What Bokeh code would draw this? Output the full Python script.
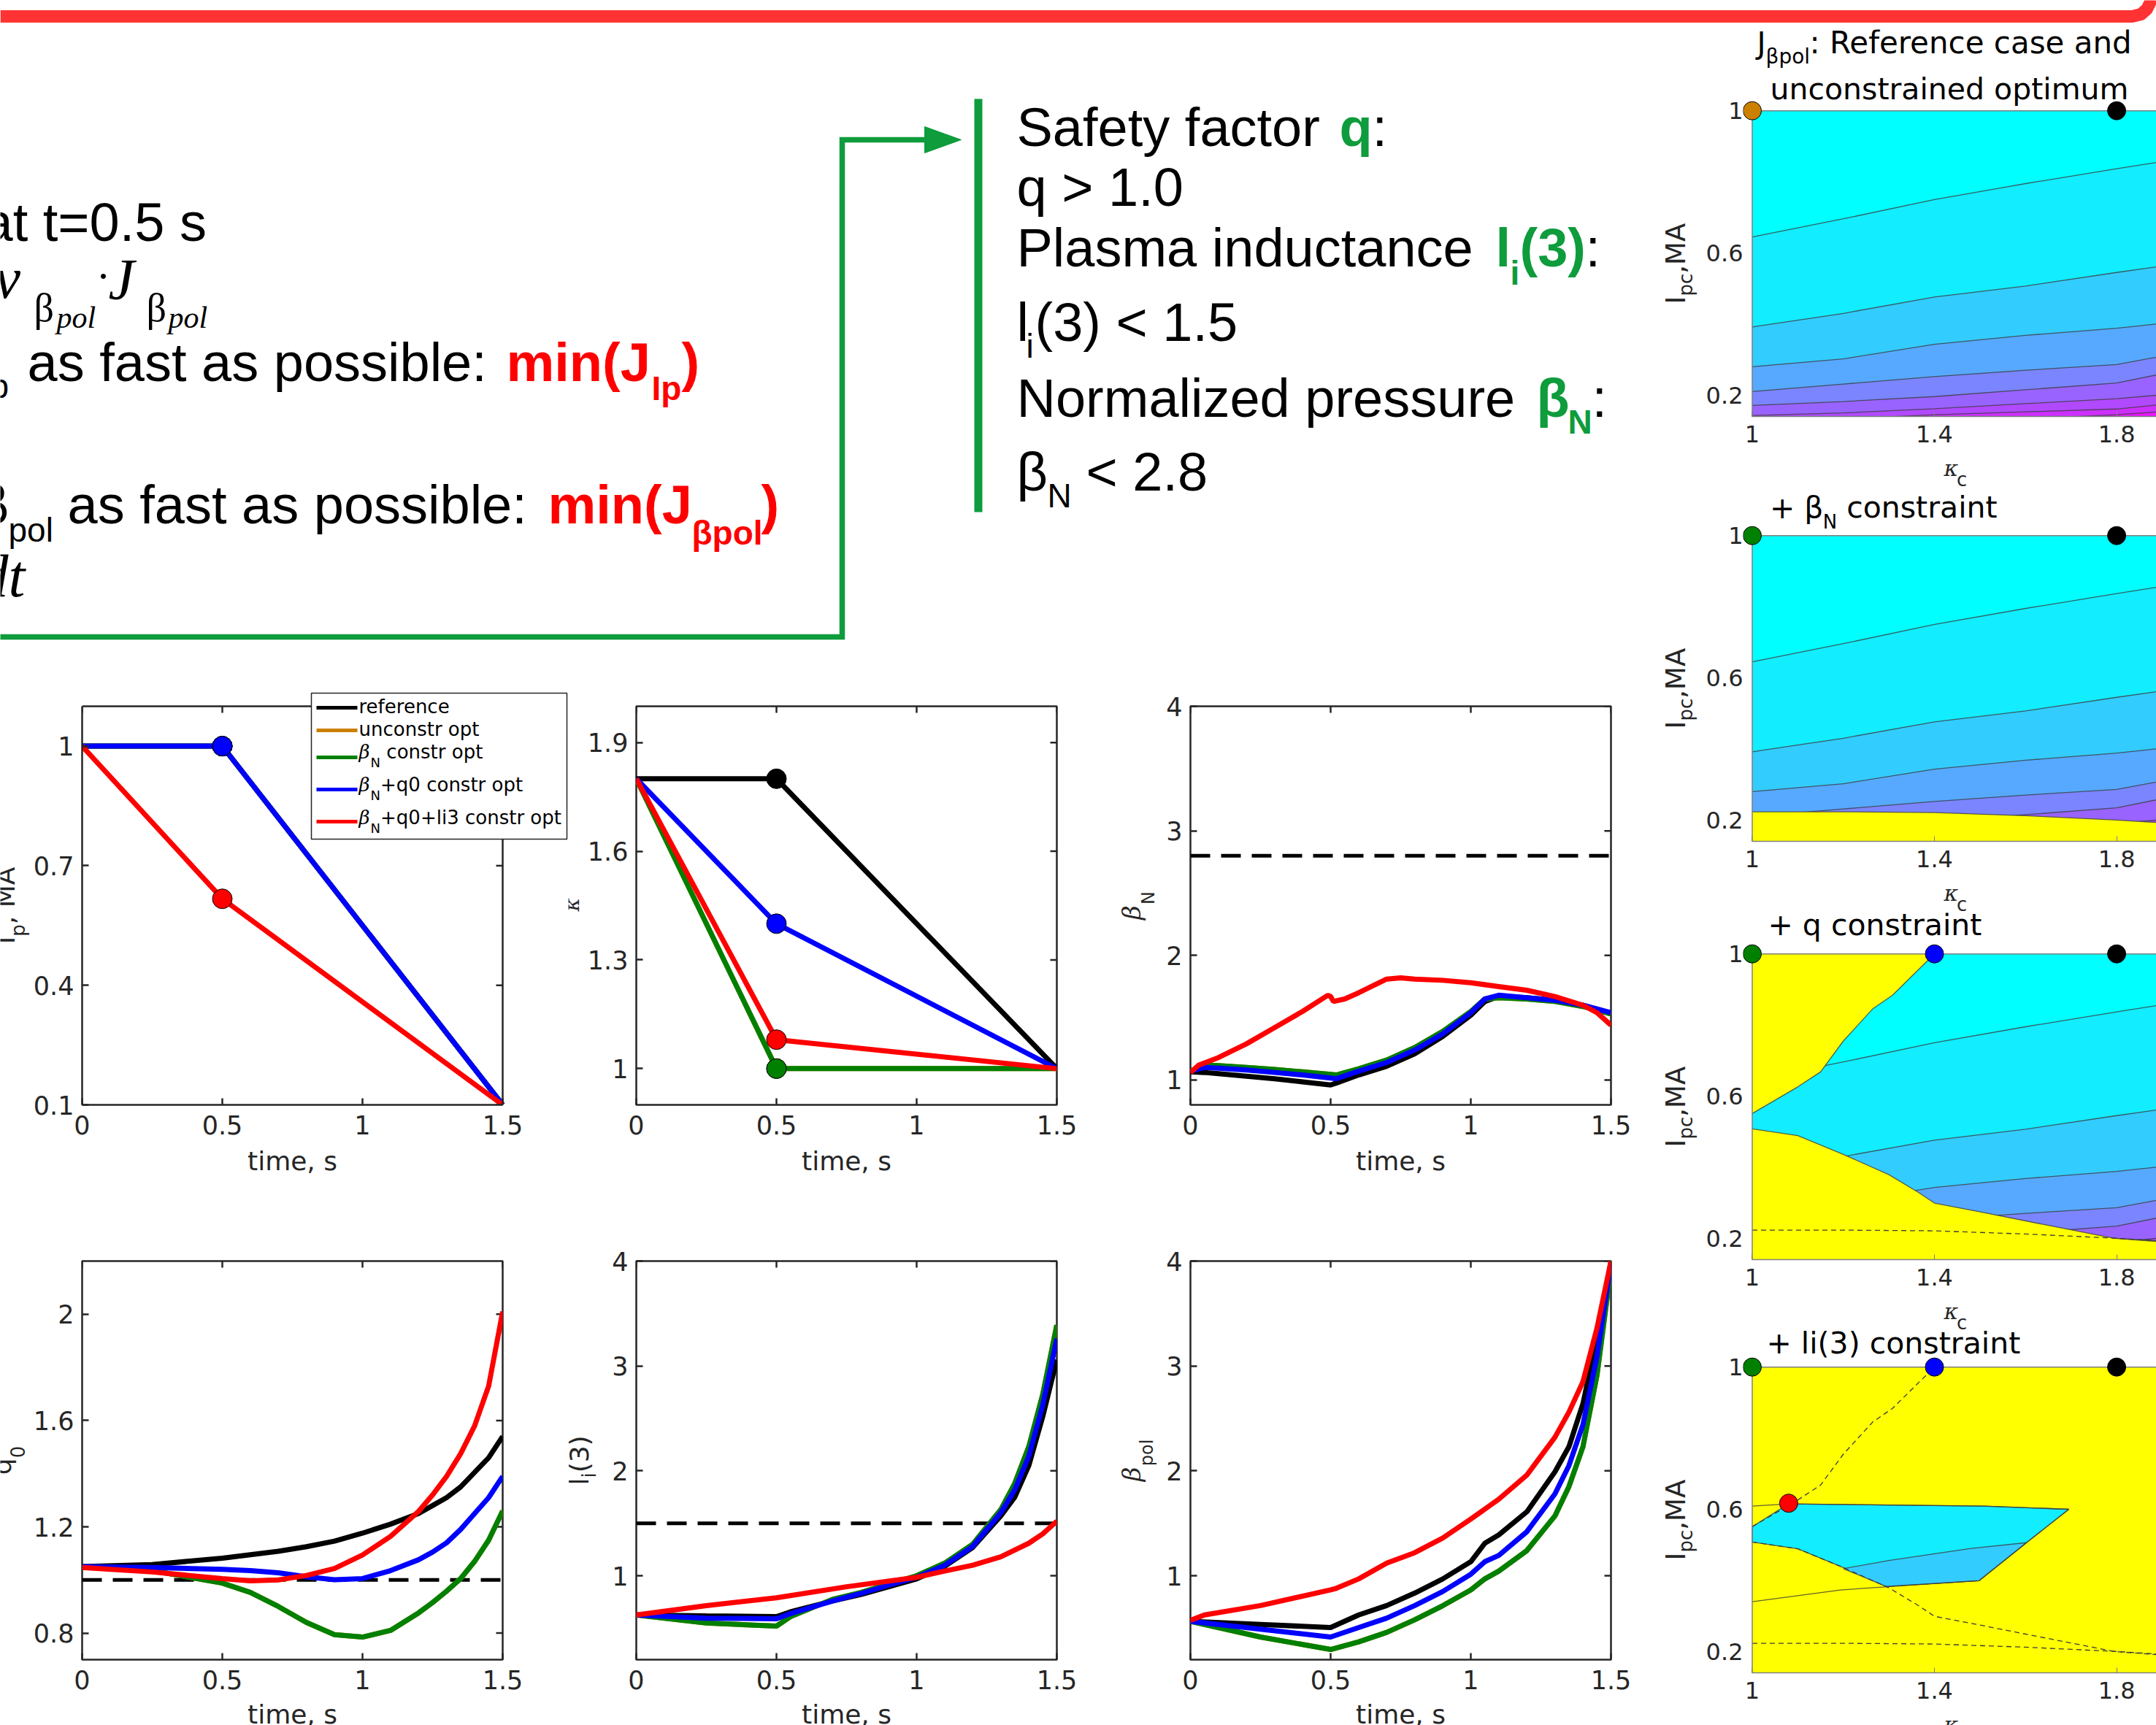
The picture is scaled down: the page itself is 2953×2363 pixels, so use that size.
import math
from bokeh.plotting import figure
from bokeh.models import Range1d, FixedTicker, NumeralTickFormatter
from bokeh.layouts import row, column
from bokeh.embed import file_html
from bokeh.resources import INLINE
from bokeh.core.properties import value

# ======================= DATA =======================
case_names = ["reference", "unconstr opt", "βN constr opt", "βN+q0 constr opt", "βN+q0+li3 constr opt"]
case_colors = ["#000000", "#CC8000", "#008000", "#0000FF", "#FF0000"]

# plasma current Ip (MA) and elongation kappa (switch point at t = 0.5 s)
t_ramp = [0.0, 0.5, 1.5]
ip_ref = [1.0, 1.0, 0.1]
ip_unc = [1.0, 1.0, 0.1]
ip_bn = [1.0, 1.0, 0.1]
ip_bnq = [1.0, 1.0, 0.1]
ip_li = [1.0, 0.617, 0.1]
kap_ref = [1.8, 1.8, 1.0]
kap_unc = [1.8, 1.0, 1.0]
kap_bn = [1.8, 1.0, 1.0]
kap_bnq = [1.8, 1.4, 1.0]
kap_li = [1.8, 1.08, 1.0]

# normalized pressure beta_N
t_bN = [0.0, 0.05, 0.1, 0.2, 0.3, 0.4, 0.5, 0.52, 0.6, 0.7, 0.8, 0.9, 1.0, 1.05, 1.1, 1.2, 1.3, 1.4, 1.5]
bN_ref = [1.065, 1.06, 1.05, 1.03, 1.01, 0.985, 0.96, 0.975, 1.04, 1.11, 1.21, 1.35, 1.52, 1.63, 1.67, 1.66, 1.64, 1.60, 1.53]
bN_unc = [1.07, 1.12, 1.115, 1.10, 1.085, 1.065, 1.045, 1.04, 1.09, 1.16, 1.26, 1.39, 1.55, 1.65, 1.66, 1.65, 1.63, 1.59, 1.53]
bN_bn = [1.07, 1.12, 1.115, 1.10, 1.085, 1.065, 1.045, 1.04, 1.09, 1.16, 1.26, 1.39, 1.55, 1.65, 1.66, 1.65, 1.63, 1.59, 1.53]
bN_bnq = [1.07, 1.10, 1.095, 1.08, 1.06, 1.04, 1.015, 1.01, 1.07, 1.14, 1.24, 1.37, 1.54, 1.65, 1.68, 1.66, 1.64, 1.60, 1.54]
t_bN_li = [0.0, 0.03, 0.1, 0.2, 0.3, 0.4, 0.49, 0.5, 0.51, 0.55, 0.6, 0.7, 0.75, 0.8, 0.9, 1.0, 1.1, 1.2, 1.3, 1.4, 1.45, 1.5]
bN_li = [1.06, 1.12, 1.18, 1.29, 1.42, 1.55, 1.68, 1.67, 1.63, 1.65, 1.70, 1.81, 1.82, 1.81, 1.80, 1.78, 1.75, 1.72, 1.67, 1.60, 1.54, 1.44]
bN_limit = 2.8

# central safety factor q0
t_q = [0.0, 0.25, 0.5, 0.6, 0.7, 0.8, 0.9, 1.0, 1.1, 1.2, 1.25, 1.3, 1.35, 1.4, 1.45, 1.5]
q_ref = [1.05, 1.058, 1.082, 1.095, 1.108, 1.125, 1.146, 1.176, 1.21, 1.25, 1.28, 1.31, 1.35, 1.405, 1.46, 1.54]
q_unc = [1.05, 1.035, 0.988, 0.953, 0.90, 0.84, 0.794, 0.785, 0.81, 0.876, 0.915, 0.958, 1.005, 1.07, 1.15, 1.26]
q_bn = [1.05, 1.035, 0.988, 0.953, 0.90, 0.84, 0.794, 0.785, 0.81, 0.876, 0.915, 0.958, 1.005, 1.07, 1.15, 1.26]
q_bnq = [1.05, 1.047, 1.04, 1.035, 1.027, 1.012, 1.001, 1.005, 1.035, 1.076, 1.105, 1.14, 1.19, 1.25, 1.31, 1.39]
q_li = [1.047, 1.03, 1.005, 0.997, 1.0, 1.017, 1.043, 1.094, 1.164, 1.258, 1.32, 1.39, 1.475, 1.58, 1.73, 2.01]
q_limit = 1.0

# internal inductance li(3)
t_li = [0.0, 0.25, 0.5, 0.55, 0.7, 0.8, 0.9, 1.0, 1.1, 1.2, 1.3, 1.35, 1.4, 1.45, 1.5]
li_ref = [0.626, 0.617, 0.61, 0.656, 0.76, 0.82, 0.895, 0.97, 1.09, 1.27, 1.57, 1.75, 2.05, 2.52, 3.06]
li_unc = [0.626, 0.55, 0.52, 0.61, 0.775, 0.84, 0.92, 1.0, 1.12, 1.30, 1.63, 1.88, 2.23, 2.73, 3.39]
li_bn = [0.626, 0.55, 0.52, 0.61, 0.775, 0.84, 0.92, 1.0, 1.12, 1.30, 1.63, 1.88, 2.23, 2.73, 3.39]
li_bnq = [0.626, 0.595, 0.59, 0.64, 0.76, 0.83, 0.91, 0.985, 1.10, 1.28, 1.60, 1.82, 2.14, 2.63, 3.26]
t_li_li = [0.0, 0.25, 0.5, 0.75, 1.0, 1.1, 1.2, 1.3, 1.4, 1.45, 1.5]
li_li = [0.626, 0.715, 0.79, 0.895, 0.985, 1.045, 1.10, 1.18, 1.31, 1.40, 1.52]
li_limit = 1.5

# poloidal beta
t_bp = [0.0, 0.25, 0.5, 0.6, 0.7, 0.8, 0.9, 1.0, 1.05, 1.1, 1.2, 1.3, 1.35, 1.4, 1.45, 1.5]
bp_ref = [0.566, 0.536, 0.506, 0.626, 0.716, 0.835, 0.97, 1.134, 1.31, 1.39, 1.61, 1.99, 2.23, 2.64, 3.27, 3.99]
bp_unc = [0.566, 0.416, 0.297, 0.37, 0.46, 0.58, 0.715, 0.865, 0.97, 1.045, 1.24, 1.57, 1.85, 2.23, 2.91, 3.93]
bp_bn = [0.566, 0.416, 0.297, 0.37, 0.46, 0.58, 0.715, 0.865, 0.97, 1.045, 1.24, 1.57, 1.85, 2.23, 2.91, 3.93]
bp_bnq = [0.566, 0.49, 0.416, 0.506, 0.596, 0.716, 0.85, 1.015, 1.134, 1.194, 1.42, 1.78, 2.05, 2.44, 3.09, 3.98]
t_bp_li = [0.0, 0.05, 0.25, 0.5, 0.52, 0.6, 0.7, 0.8, 0.9, 1.0, 1.1, 1.2, 1.3, 1.35, 1.4, 1.45, 1.5]
bp_li = [0.575, 0.626, 0.716, 0.865, 0.88, 0.97, 1.12, 1.22, 1.36, 1.54, 1.73, 1.96, 2.32, 2.56, 2.85, 3.36, 4.0]

# J_beta_pol contour map over (kappa_c, I_pc): level lines sampled on k_grid
k_grid = [1.0, 1.2, 1.4, 1.6, 1.8, 1.9]
ipc_top = 1.0
ipc_floor = 0.0
lev_A = [0.645, 0.696, 0.750, 0.795, 0.837, 0.857]
lev_B = [0.392, 0.430, 0.476, 0.507, 0.545, 0.563]
lev_C = [0.280, 0.302, 0.343, 0.368, 0.388, 0.402]
lev_D = [0.210, 0.231, 0.252, 0.270, 0.286, 0.310]
lev_E = [0.171, 0.182, 0.196, 0.215, 0.234, 0.260]
lev_F = [0.143, 0.150, 0.162, 0.176, 0.190, 0.201]
lev_G = [0.120, 0.133, 0.145, 0.153, 0.161, 0.174]
lev_H = [0.100, 0.110, 0.120, 0.133, 0.145, 0.154]
band_colors = ["#00FFFF", "#12EDFF", "#33CCFF", "#56A9FF", "#7A85FF", "#9963FF", "#B149FF", "#CD2FFF", "#E916FF"]
# constraint boundaries
bN_bound = [0.223, 0.223, 0.221, 0.212, 0.200, 0.192]
q_up_k = [1.0, 1.1, 1.15, 1.2, 1.265, 1.308, 1.4]
q_up_I = [0.551, 0.626, 0.668, 0.755, 0.846, 0.884, 1.0]
q_lo_k = [1.0, 1.1, 1.2, 1.3, 1.365, 1.4, 1.509, 1.659, 1.795, 1.9]
q_lo_I = [0.508, 0.489, 0.436, 0.379, 0.329, 0.299, 0.272, 0.234, 0.200, 0.190]
li_up_k = [1.0, 1.079, 1.509, 1.695]
li_up_I = [0.609, 0.615, 0.609, 0.600]
li_rt_k = [1.695, 1.602, 1.498]
li_rt_I = [0.600, 0.506, 0.399]
li_lo_k = [1.0, 1.193, 1.494]
li_lo_I = [0.340, 0.373, 0.399]
feas_k = [1.0, 1.079, 1.509, 1.695, 1.602, 1.498, 1.294, 1.2, 1.1, 1.0]
feas_I = [0.551, 0.615, 0.609, 0.600, 0.506, 0.399, 0.383, 0.436, 0.489, 0.508]
feas_b3_k = [1.2, 1.3, 1.48, 1.602, 1.498, 1.294]
feas_b3_I = [0.433, 0.456, 0.49, 0.506, 0.399, 0.383]

# ======================= HELPERS =======================
EM = {" ": 0.318, ",": 0.318, ".": 0.318, ":": 0.337, "(": 0.390, ")": 0.390, "+": 0.838,
      "0": 0.636, "1": 0.636, "2": 0.636, "3": 0.636, "5": 0.636,
      "A": 0.684, "I": 0.295, "J": 0.295, "M": 0.863, "N": 0.748, "R": 0.695,
      "a": 0.613, "c": 0.550, "d": 0.635, "e": 0.615, "f": 0.352, "i": 0.278, "l": 0.278,
      "m": 0.974, "n": 0.634, "o": 0.612, "p": 0.635, "q": 0.635, "r": 0.411, "s": 0.521,
      "t": 0.392, "u": 0.634, "β": 0.62, "κ": 0.58}
SANS = "DejaVu Sans"
SERIF = "DejaVu Serif"
AX = "#262626"
MID = 0.35   # offset between requested anchor and rendered baseline (fraction of font size)


def no_align(f):
    try:
        f.frame_align = False
    except Exception:
        pass
    return f


def text_w(s, size):
    return sum(EM.get(ch, 0.6) for ch in s) * size


def IDX(X):
    return X


def NEG(Y):
    return -Y


def put_text(fig, fx, fy, X, Y, s, size, color="#000000", style="normal", font=SANS, angle=0.0):
    """X, Y: page pixel position of the text baseline start."""
    if angle == 0:
        xd, yd = X, Y - MID * size
    else:
        xd, yd = X - MID * size, Y
    fig.text(x=[fx(xd)], y=[fy(yd)], text=[s], text_font=value(font), text_font_size=value(f"{size}px"),
             text_color=color, text_font_style=value(style), text_align=value("left"),
             text_baseline=value("alphabetic"), angle=angle)


def put_rich(fig, fx, fy, X, Y, pieces, color=AX, angle=0.0, align="left"):
    widths = [text_w(pc[0], pc[1]) for pc in pieces]
    cum = -sum(widths) / 2.0 if align == "center" else 0.0
    for (s, size, shift, font, style), w in zip(pieces, widths):
        body = s.lstrip(" ")
        lead = text_w(s[:len(s) - len(body)], size)   # leading blanks are collapsed in SVG: advance instead
        if angle == 0:
            put_text(fig, fx, fy, X + cum + lead, Y + shift, body, size, color, style, font)
        else:
            put_text(fig, fx, fy, X + shift, Y - cum - lead, body, size, color, style, font, angle)
        cum += w


def page_fig(x0, x1, y0, y1):
    f = figure(width=x1 - x0, height=y1 - y0, x_range=Range1d(x0, x1), y_range=Range1d(-y1, -y0),
               x_axis_type=None, y_axis_type=None, min_border=0, toolbar_location=None,
               tools="", output_backend="svg")
    f.outline_line_color = None
    f.background_fill_color = "white"
    f.border_fill_color = "white"
    return no_align(f)


def lin_map(left, top, width, height, xr, yr):
    def fx(X):
        return xr[0] + (X - left) * (xr[1] - xr[0]) / width

    def fy(Y):
        return yr[1] - (Y - top) * (yr[1] - yr[0]) / height
    return fx, fy


# ======================= TOP STRIP =======================
strip = page_fig(0, 2953, 0, 40)
strip.line(x=[0, 2920, 2932, 2940, 2944, 2946], y=[-22, -22, -19, -12, -4, 2], line_color="#FF3333",
           line_width=17, line_join="round")

# ======================= SLIDE TEXT =======================
GREEN = "#0E9C3C"
RED = "#FF0000"
txt = page_fig(0, 2262, 40, 930)
txt.line(x=[-10, 1153, 1153, 1268], y=[-872, -872, -191, -191], line_color=GREEN, line_width=7.5, line_join="miter")
txt.patch(x=[1266, 1266, 1316], y=[-173, -209, -191], fill_color=GREEN, line_color=GREEN)
txt.line(x=[1339.5, 1339.5], y=[-135, -701], line_color=GREEN, line_width=11)

F = 74
SUB = 46
LS = "Liberation Sans"
LSF = "Liberation Serif"


def st(X, Y, s, size, color="#000000", style="normal", font=LS):
    put_text(txt, IDX, NEG, X, Y, s, size, color, style, font)


st(-24, 330, "at t=0.5 s", F)
st(-8, 408, "ν", 80, style="italic", font=LSF)
st(46, 440, "β", 54, font=LSF)
st(77, 449, "pol", 42, style="italic", font=LSF)
st(131, 398, "·", 60, font=LSF)
st(148, 410, "J", 80, style="italic", font=LSF)
st(200, 440, "β", 54, font=LSF)
st(230, 449, "pol", 42, style="italic", font=LSF)

st(-14, 545, "p", SUB)
st(37, 522, "as fast as possible: ", F)
st(693, 522, "min(J", F, color=RED, style="bold")
st(892, 548, "Ip", SUB, color=RED, style="bold")
st(933, 522, ")", F, color=RED, style="bold")

st(-31, 717, "β", F)
st(11, 742, "pol", SUB)
st(92, 717, "as fast as possible: ", F)
st(750, 717, "min(J", F, color=RED, style="bold")
st(947, 746, "βpol", SUB, color=RED, style="bold")
st(1042, 717, ")", F, color=RED, style="bold")
st(-30, 818, "dt", 82, style="italic", font=LSF)

X0 = 1392
st(X0, 199.5, "Safety factor ", F)
st(1834, 199.5, "q", F, color=GREEN, style="bold")
st(1879, 199.5, ":", F)
st(X0, 282, "q > 1.0", F)
st(X0, 365, "Plasma inductance ", F)
st(2048, 365, "l", F, color=GREEN, style="bold")
st(2068, 390, "i", SUB, color=GREEN, style="bold")
st(2081, 365, "(3)", F, color=GREEN, style="bold")
st(2171, 365, ":", F)
st(X0, 467, "l", F)
st(1405, 490, "i", SUB)
st(1417, 467, "(3) < 1.5", F)
st(X0, 570.6, "Normalized pressure ", F)
st(2104, 570.6, "β", F, color=GREEN, style="bold")
st(2147, 594, "N", SUB, color=GREEN, style="bold")
st(2180, 570.6, ":", F)
st(X0, 672, "β", F)
st(1434, 695, "N", SUB)
st(1487, 672, "< 2.8", F)

# ======================= LINE PLOTS =======================
XT = [0, 0.5, 1, 1.5]
PX_T = 384.0   # px per second
FH = 546


def line_panel(fx0, fw_fig, fl, fwid, fy0, fh_fig, ft, fhei, xr, yr, yticks, x_hi, y_hi, outline=True):
    p = figure(width=fw_fig, height=fh_fig, x_range=Range1d(*xr), y_range=Range1d(*yr),
               min_border_left=fl - fx0, min_border_right=fx0 + fw_fig - fl - fwid,
               min_border_top=ft - fy0, min_border_bottom=fy0 + fh_fig - ft - fhei,
               toolbar_location=None, tools="", output_backend="svg")
    no_align(p)
    p.grid.visible = False
    p.background_fill_color = "white"
    p.border_fill_color = "white"
    p.xaxis.ticker = FixedTicker(ticks=XT)
    p.yaxis.ticker = FixedTicker(ticks=yticks)
    for ax in list(p.xaxis) + list(p.yaxis):
        ax.formatter = NumeralTickFormatter(format="0.[0]")
        ax.major_label_text_font = SANS
        ax.major_label_text_font_size = "35px"
        ax.major_label_text_color = AX
        ax.major_tick_in = 9
        ax.major_tick_out = 0
        ax.major_tick_line_color = AX
        ax.major_tick_line_width = 2.5
        ax.minor_tick_line_color = None
    p.xaxis.major_label_standoff = 14
    p.yaxis.major_label_standoff = 11
    if outline:
        p.outline_line_color = AX
        p.outline_line_width = 2.5
        for ax in list(p.xaxis) + list(p.yaxis):
            ax.axis_line_color = None
    else:
        p.outline_line_color = None
        p.xaxis.bounds = (0, x_hi)
        p.yaxis.bounds = (yr[0], y_hi)
        for ax in list(p.xaxis) + list(p.yaxis):
            ax.axis_line_color = AX
            ax.axis_line_width = 2.5
        p.line([0, x_hi, x_hi], [y_hi, y_hi, yr[0]], line_color=AX, line_width=2.5)
    fx, fy = lin_map(fl, ft, fwid, fhei, xr, yr)
    dx = fx(fl + 9) - fx(fl)
    dy = fy(ft) - fy(ft + 9)
    p.segment(x0=XT, y0=[y_hi] * len(XT), x1=XT, y1=[y_hi - dy] * len(XT), line_color=AX, line_width=2.5)
    p.segment(x0=[x_hi] * len(yticks), y0=yticks, x1=[x_hi - dx] * len(yticks), y1=yticks,
              line_color=AX, line_width=2.5)
    return p, (fx, fy)


def draw_series(p, series, width=7):
    for tt, yy, col in series:
        p.line(tt, yy, line_color=col, line_width=width)


def limit_line(p, lim):
    p.line([0, 1.5], [lim, lim], line_color="#000000", line_width=5, line_dash="27 15")


R1Y0, R1H = 930, 640
R2Y0, R2H = 1680, 650

# Ip (frame extended to host the legend)
p1_yr = (0.1, 0.1 + 566 / 546.0)
p1, m1 = line_panel(42, 736, 112, 666, R1Y0, R1H, 947, 566, (0, 666 / PX_T), p1_yr,
                    [0.1, 0.4, 0.7, 1.0], 1.5, 1.1, outline=False)
ip_all = [ip_ref, ip_unc, ip_bn, ip_bnq, ip_li]
draw_series(p1, [(t_ramp, s, c) for s, c in zip(ip_all, case_colors)])
for s, c in zip(ip_all, case_colors):
    p1.scatter([t_ramp[1]], [s[1]], size=27, fill_color=c, line_color="black", line_width=1)

# legend
fx1, fy1 = m1
p1.quad(left=[fx1(426)], right=[fx1(776)], top=[fy1(949)], bottom=[fy1(1149)],
        fill_color="white", line_color=AX, line_width=1.5)
leg_rows = [969, 1000, 1037, 1081, 1125]
leg_base = [977, 1008, 1039, 1084, 1129]
for yc, yb, col, name in zip(leg_rows, leg_base, case_colors, case_names):
    p1.line([fx1(433), fx1(489)], [fy1(yc), fy1(yc)], line_color=col, line_width=5)
    if name.startswith("βN"):
        pieces = [("β", 26, 0, SERIF, "italic"), ("N", 18, 11, SANS, "normal"), (name[2:], 26, 0, SANS, "normal")]
    else:
        pieces = [(name, 26, 0, SANS, "normal")]
    put_rich(p1, fx1, fy1, 491, yb, pieces, color="#000000")

# kappa
p2, m2 = line_panel(800, 730, 871, 576, R1Y0, R1H, 967, FH, (0, 1.5), (0.9, 2.0), [1.0, 1.3, 1.6, 1.9], 1.5, 2.0)
kap_all = [kap_ref, kap_unc, kap_bn, kap_bnq, kap_li]
draw_series(p2, [(t_ramp, s, c) for s, c in zip(kap_all, case_colors)])
for s, c in zip(kap_all, case_colors):
    p2.scatter([t_ramp[1]], [s[1]], size=27, fill_color=c, line_color="black", line_width=1)

# beta_N
p3, m3 = line_panel(1590, 672, 1630, 576, R1Y0, R1H, 967, FH, (0, 1.5), (0.8, 4.0), [1, 2, 3, 4], 1.5, 4.0)
limit_line(p3, bN_limit)
draw_series(p3, [(t_bN, bN_ref, case_colors[0]), (t_bN, bN_unc, case_colors[1]), (t_bN, bN_bn, case_colors[2]),
                 (t_bN, bN_bnq, case_colors[3]), (t_bN_li, bN_li, case_colors[4])])

# q0
p4, m4 = line_panel(42, 736, 112, 576, R2Y0, R2H, 1727, FH, (0, 1.5), (0.7, 2.2), [0.8, 1.2, 1.6, 2.0], 1.5, 2.2)
limit_line(p4, q_limit)
draw_series(p4, [(t_q, q_ref, case_colors[0]), (t_q, q_unc, case_colors[1]), (t_q, q_bn, case_colors[2]),
                 (t_q, q_bnq, case_colors[3]), (t_q, q_li, case_colors[4])])

# li(3)
p5, m5 = line_panel(822, 708, 871, 576, R2Y0, R2H, 1727, FH, (0, 1.5), (0.2, 4.0), [1, 2, 3, 4], 1.5, 4.0)
limit_line(p5, li_limit)
draw_series(p5, [(t_li, li_ref, case_colors[0]), (t_li, li_unc, case_colors[1]), (t_li, li_bn, case_colors[2]),
                 (t_li, li_bnq, case_colors[3]), (t_li_li, li_li, case_colors[4])])

# beta_pol
p6, m6 = line_panel(1590, 672, 1630, 576, R2Y0, R2H, 1727, FH, (0, 1.5), (0.2, 4.0), [1, 2, 3, 4], 1.5, 4.0)
draw_series(p6, [(t_bp, bp_ref, case_colors[0]), (t_bp, bp_unc, case_colors[1]), (t_bp, bp_bn, case_colors[2]),
                 (t_bp, bp_bnq, case_colors[3]), (t_bp_li, bp_li, case_colors[4])])

# y-axis label holders
HALF = math.pi / 2
lab1 = page_fig(0, 42, R1Y0, R1Y0 + R1H)
put_rich(lab1, IDX, NEG, 20, 1240, [("I", 36, 0, SANS, "normal"), ("p", 26, 14, SANS, "normal"),
                                     (", MA", 36, 0, SANS, "normal")], angle=HALF, align="center")
lab2 = page_fig(778, 800, R1Y0, R1Y0 + R1H)
put_rich(lab2, IDX, NEG, 793, 1240, [("κ", 28, 0, SERIF, "italic")], angle=HALF, align="center")
lab3 = page_fig(1530, 1590, R1Y0, R1Y0 + R1H)
put_rich(lab3, IDX, NEG, 1561, 1240, [("β", 34, 0, SERIF, "italic"), ("N", 24, 20, SANS, "normal")],
         angle=HALF, align="center")
lab4 = page_fig(0, 42, R2Y0, R2Y0 + R2H)
put_rich(lab4, IDX, NEG, 15, 2000, [("q", 36, 0, SANS, "normal"), ("0", 26, 18, SANS, "normal")],
         angle=HALF, align="center")
lab5 = page_fig(778, 822, R2Y0, R2Y0 + R2H)
put_rich(lab5, IDX, NEG, 806, 2000, [("l", 36, 0, SANS, "normal"), ("i", 26, 10, SANS, "normal"),
                                      ("(3)", 36, 0, SANS, "normal")], angle=HALF, align="center")
lab6 = page_fig(1530, 1590, R2Y0, R2Y0 + R2H)
put_rich(lab6, IDX, NEG, 1561, 2000, [("β", 34, 0, SERIF, "italic"), ("pol", 24, 18, SANS, "normal")],
         angle=HALF, align="center")

# x-axis label strips
tstrip1 = page_fig(0, 2262, R1Y0 + R1H, R2Y0)
tstrip2 = page_fig(0, 2262, R2Y0 + R2H, 2363)
for cx in (400, 1159, 1918):
    put_rich(tstrip1, IDX, NEG, cx, 1603, [("time, s", 36, 0, SANS, "normal")], align="center")
    put_rich(tstrip2, IDX, NEG, cx, 2361, [("time, s", 36, 0, SANS, "normal")], align="center")

# ======================= CONTOUR MAPS =======================
CX0 = 2333
CW = 620
CBL = 53
CFW = 567
CPX = 487.0
KX = (0.98, 0.98 + CFW / 625.0)
LINE_C = "#3C3C3C"
YEL = "#FFFF00"
C_TOP = [40, 672, 1250, 1822]     # page y of each map's figure top (= frame top)
C_FB = [570, 1152, 1725, 2291]    # page y of I_pc = 0.14 (frame bottom)
C_BB = 52

marker_k = [kap_ref[1], kap_unc[1], kap_bn[1], kap_bnq[1], kap_li[1]]
marker_I = [ip_ref[1], ip_unc[1], ip_bn[1], ip_bnq[1], ip_li[1]]


def contour_fig(i):
    top, fb = C_TOP[i], C_FB[i]
    fh = fb - top
    yr = (0.14, 0.14 + fh / CPX)
    p = figure(width=CW, height=fh + C_BB, x_range=Range1d(*KX), y_range=Range1d(*yr),
               min_border_left=CBL, min_border_right=0, min_border_top=0, min_border_bottom=C_BB,
               toolbar_location=None, tools="", output_backend="svg")
    no_align(p)
    p.grid.visible = False
    p.outline_line_color = None
    p.background_fill_color = "white"
    p.border_fill_color = "white"
    p.xaxis.ticker = FixedTicker(ticks=[1.0, 1.4, 1.8])
    p.yaxis.ticker = FixedTicker(ticks=[0.2, 0.6, 1.0])
    for ax in list(p.xaxis) + list(p.yaxis):
        ax.formatter = NumeralTickFormatter(format="0.[0]")
        ax.major_label_text_font = SANS
        ax.major_label_text_font_size = "32px"
        ax.major_label_text_color = AX
        ax.minor_tick_line_color = None
        ax.major_tick_out = 0
    p.xaxis.bounds = (1.0, 2.0)
    p.xaxis.axis_line_color = "#7F7F7F"
    p.xaxis.axis_line_width = 1.5
    p.xaxis.major_tick_in = 7
    p.xaxis.major_tick_line_color = "#7F7F7F"
    p.xaxis.major_label_standoff = 12
    p.yaxis.axis_line_color = None
    p.yaxis.major_tick_line_color = None
    p.yaxis.major_label_standoff = 0
    fmap = lin_map(CX0 + CBL, top, CFW, fh, KX, yr)
    return p, fmap


def bands(p):
    bounds = [[ipc_top] * len(k_grid), lev_A, lev_B, lev_C, lev_D, lev_E, lev_F, lev_G, lev_H]
    for b, col in zip(bounds, band_colors):
        p.patch(x=k_grid + [k_grid[-1], k_grid[0]], y=b + [ipc_floor, ipc_floor], fill_color=col, line_color=None)
    p.multi_line(xs=[k_grid] * 8, ys=[lev_A, lev_B, lev_C, lev_D, lev_E, lev_F, lev_G, lev_H],
                 line_color=LINE_C, line_width=1.3, line_alpha=0.8)


def yellow_bN(p, dashed=False):
    if not dashed:
        p.patch(x=k_grid + [k_grid[-1], k_grid[0]], y=bN_bound + [ipc_floor, ipc_floor], fill_color=YEL, line_color=None)
        p.line(k_grid, bN_bound, line_color=LINE_C, line_width=1.3, line_alpha=0.8)
    else:
        p.line(k_grid, bN_bound, line_color=LINE_C, line_width=1.3, line_dash="7 5")


def frame_lines(p):
    p.line([k_grid[0], k_grid[0]], [0.14, ipc_top], line_color="#7F7F7F", line_width=1.5)
    p.line([k_grid[0], k_grid[-1]], [ipc_top, ipc_top], line_color="#7F7F7F", line_width=1.5)


def markers(p, idx):
    for j in idx:
        p.scatter([marker_k[j]], [marker_I[j]], size=25, fill_color=case_colors[j], line_color="black", line_width=1)


# c1: reference + unconstrained
c1, cm1 = contour_fig(0)
bands(c1)
frame_lines(c1)
put_rich(c1, cm1[0], cm1[1], 2405, 73, [("J", 41, 0, SANS, "normal"), ("βpol", 28, 14, SANS, "normal"),
                                         (": Reference case and", 42, 0, SANS, "normal")], color="#000000")
put_rich(c1, cm1[0], cm1[1], 2423, 136, [("unconstrained optimum", 41, 0, SANS, "normal")], color="#000000")
markers(c1, [1, 0])

# c2: + beta_N constraint
c2, cm2 = contour_fig(1)
bands(c2)
yellow_bN(c2)
frame_lines(c2)
put_rich(c2, cm2[0], cm2[1], 2422.6, 708.8, [("+", 41, 0, SANS, "normal"), (" β", 41, 0, SANS, "normal"),
                                              ("N", 26, 15, SANS, "normal"), (" constraint", 41, 0, SANS, "normal")],
         color="#000000")
markers(c2, [2, 0])

# c3: + q constraint
c3, cm3 = contour_fig(2)
bands(c3)
yellow_bN(c3)
c3.patch(x=q_up_k + [k_grid[0]], y=q_up_I + [ipc_top], fill_color=YEL, line_color=None)
c3.patch(x=q_lo_k + [q_lo_k[-1], q_lo_k[0]], y=q_lo_I + [ipc_floor, ipc_floor], fill_color=YEL, line_color=None)
c3.line(q_up_k, q_up_I, line_color=LINE_C, line_width=1.3, line_alpha=0.8)
c3.line(q_lo_k, q_lo_I, line_color=LINE_C, line_width=1.3, line_alpha=0.8)
yellow_bN(c3, dashed=True)
frame_lines(c3)
put_rich(c3, cm3[0], cm3[1], 2420, 1281, [("+ q constraint", 41, 0, SANS, "normal")], color="#000000")
markers(c3, [2, 3, 0])

# c4: + li(3) constraint
c4, cm4 = contour_fig(3)
c4.patch(x=[k_grid[0], k_grid[-1], k_grid[-1], k_grid[0]], y=[ipc_floor, ipc_floor, ipc_top, ipc_top],
         fill_color=YEL, line_color=None)
c4.patch(x=feas_k, y=feas_I, fill_color=band_colors[1], line_color=LINE_C, line_width=1.3, line_alpha=0.8)
c4.patch(x=feas_b3_k, y=feas_b3_I, fill_color=band_colors[2], line_color=LINE_C, line_width=1.3, line_alpha=0.8)
c4.line(li_up_k, li_up_I, line_color=LINE_C, line_width=1.3, line_alpha=0.8)
c4.line(li_lo_k, li_lo_I, line_color=LINE_C, line_width=1.3, line_alpha=0.8)
c4.line(li_rt_k, li_rt_I, line_color=LINE_C, line_width=1.3, line_alpha=0.8)
c4.line(q_up_k, q_up_I, line_color=LINE_C, line_width=1.3, line_dash="7 5")
c4.line(q_lo_k, q_lo_I, line_color=LINE_C, line_width=1.3, line_dash="7 5")
yellow_bN(c4, dashed=True)
frame_lines(c4)
put_rich(c4, cm4[0], cm4[1], 2418, 1854, [("+ li(3) constraint", 41, 0, SANS, "normal")], color="#000000")
markers(c4, [2, 3, 0, 4])

# boxes between maps: x-axis labels (kappa_c)
box_spans = [(C_FB[0] + C_BB, C_TOP[1]), (C_FB[1] + C_BB, C_TOP[2]), (C_FB[2] + C_BB, C_TOP[3]), (C_FB[3] + C_BB, 2363)]
boxes = []
for (y0, y1), fb in zip(box_spans, C_FB):
    b = page_fig(CX0, CX0 + CW, y0, y1)
    put_rich(b, IDX, NEG, 2662, fb + 81, [("κ", 30, 0, SERIF, "italic"), ("c", 26, 15, SANS, "normal")])
    boxes.append(b)

# y-axis labels of the maps
cyl = page_fig(2262, CX0, 40, 2363)
for fb in C_FB:
    center = fb - 0.86 * CPX / 2.0
    put_rich(cyl, IDX, NEG, 2308, center, [("I", 37, 0, SANS, "normal"), ("pc", 26, 10, SANS, "normal"),
                                             (",MA", 37, 0, SANS, "normal")], angle=HALF, align="center")

# ======================= LAYOUT =======================
row1 = row(lab1, p1, lab2, p2, lab3, p3)
row2 = row(lab4, p4, lab5, p5, lab6, p6)
left_col = column(txt, row1, tstrip1, row2, tstrip2)
map_col = column(c1, boxes[0], c2, boxes[1], c3, boxes[2], c4, boxes[3])
root = column(strip, row(left_col, cyl, map_col))

open("out.html", "w").write(file_html(root, INLINE))
